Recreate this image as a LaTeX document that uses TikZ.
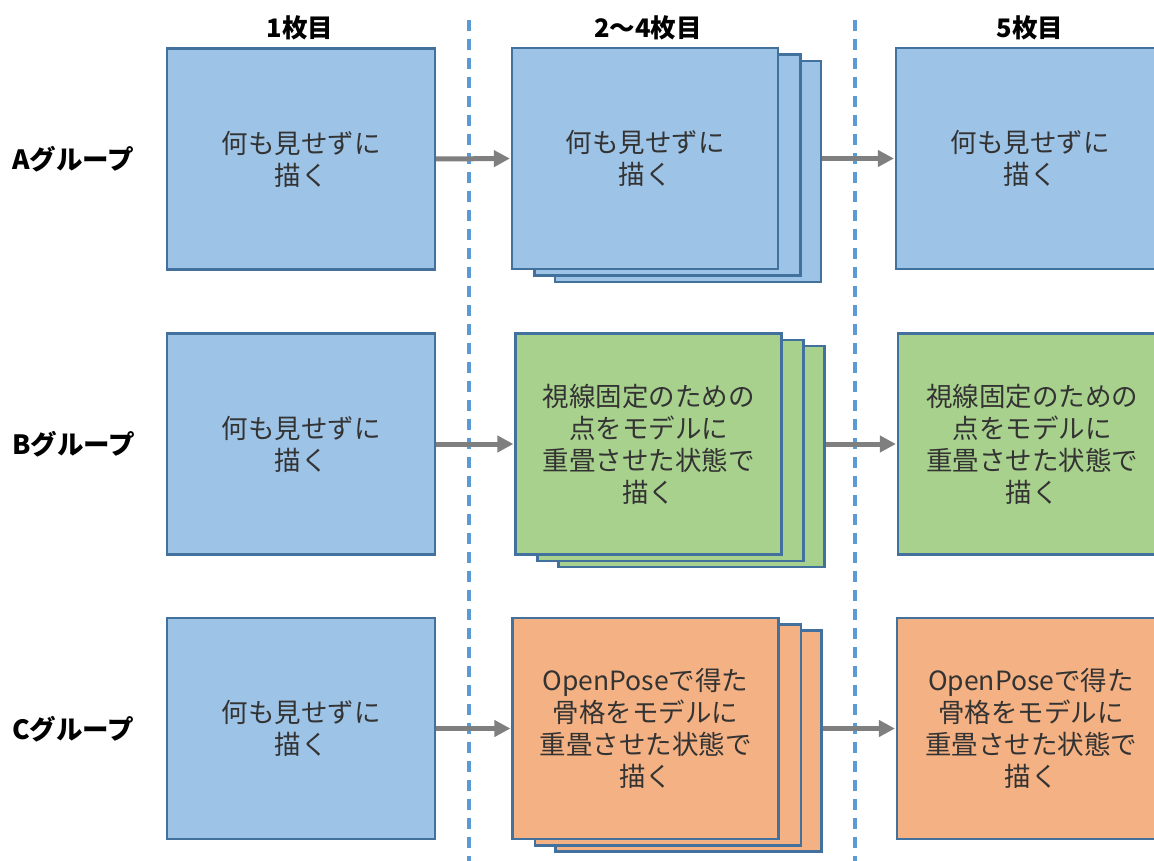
\documentclass[tikz,border=0pt]{standalone}
\usepackage{fontspec}
\setmainfont{Noto Sans CJK JP}
\usetikzlibrary{arrows.meta}
\definecolor{bluefill}{HTML}{9DC3E6}
\definecolor{greenfill}{HTML}{A9D18E}
\definecolor{orangefill}{HTML}{F4B183}
\definecolor{boxline}{HTML}{41719C}
\definecolor{dashblue}{HTML}{5B9BD5}
\definecolor{arrowgray}{HTML}{7F7F7F}
\definecolor{txtgray}{HTML}{333333}
\tikzset{
  card/.style={draw=boxline, line width=2.2pt, minimum width=266pt, minimum height=221pt,
    inner sep=0pt, align=center, text=txtgray,
    font=\fontsize{26.5}{32}\selectfont},
  bluecard/.style={card, fill=bluefill},
  greencard/.style={card, fill=greenfill},
  orangecard/.style={card, fill=orangefill},
  header/.style={font=\fontsize{25.5}{30}\selectfont\bfseries, text=black, inner sep=0pt},
  grouplabel/.style={font=\fontsize{26.5}{30}\selectfont\bfseries, text=black, inner sep=0pt, anchor=west},
  flow/.style={draw=arrowgray, line width=5pt, -{Triangle[length=16pt,width=16pt]}, shorten >=1pt},
  divider/.style={draw=dashblue, line width=3.2pt, dash pattern=on 11pt off 8pt}
}
\begin{document}
\begin{tikzpicture}[x=1pt,y=-1pt]
\useasboundingbox (0,0) rectangle (1154,861);
\clip (0,0) rectangle (1154,861);
\fill[white] (0,0) rectangle (1154,861);

% dividers
\coordinate (d1t) at (469,20);
\coordinate (d1b) at (469,861);
\coordinate (d2t) at (855,20);
\coordinate (d2b) at (855,861);
\draw[divider] (d1t) -- (d1b);
\draw[divider] (d2t) -- (d2b);

% headers
\node[header] (h1) at (300,28) {1枚目};
\node[header] (h2) at (648,28) {2〜4枚目};
\node[header] (h3) at (1030,28) {5枚目};

% group labels
\node[grouplabel] (ga) at (12,159) {Aグループ};
\node[grouplabel] (gb) at (12,444) {Bグループ};
\node[grouplabel] (gc) at (12,729) {Cグループ};

% Row A
\node[bluecard, minimum width=268pt] (a1) at (301,159) {何も見せずに\\描く};
\node[bluecard] (a2c) at (688,171.5) {};
\node[bluecard] (a2b) at (667.5,165) {};
\node[bluecard] (a2) at (645,158.5) {何も見せずに\\描く};
\node[bluecard, minimum width=268pt] (a3) at (1030,158.5) {何も見せずに\\描く};

% Row B
\node[bluecard, minimum width=268pt] (b1) at (301,444) {何も見せずに\\描く};
\node[greencard] (b2c) at (691.5,456.5) {};
\node[greencard] (b2b) at (670.5,450.5) {};
\node[greencard] (b2) at (648.5,444) {視線固定のための\\点をモデルに\\重畳させた状態で\\描く};
\node[greencard, minimum width=268pt] (b3) at (1032,444) {視線固定のための\\点をモデルに\\重畳させた状態で\\描く};

% Row C
\node[bluecard, minimum width=268pt] (c1) at (301,728.5) {何も見せずに\\描く};
\node[orangecard] (c2c) at (688.5,741) {};
\node[orangecard] (c2b) at (668,735) {};
\node[orangecard] (c2) at (645.5,728.5) {OpenPoseで得た\\骨格をモデルに\\重畳させた状態で\\描く};
\node[orangecard, minimum width=268pt] (c3) at (1031,728.5) {OpenPoseで得た\\骨格をモデルに\\重畳させた状態で\\描く};

% arrows
\draw[flow] (a1.east) -- (a2.west);
\draw[flow] (a2c.east |- a2.west) -- (a3.west);
\draw[flow] (b1.east) -- (b2.west);
\draw[flow] (b2c.east |- b2.west) -- (b3.west);
\draw[flow] (c1.east) -- (c2.west);
\draw[flow] (c2c.east |- c2.west) -- (c3.west);
\end{tikzpicture}
\end{document}
